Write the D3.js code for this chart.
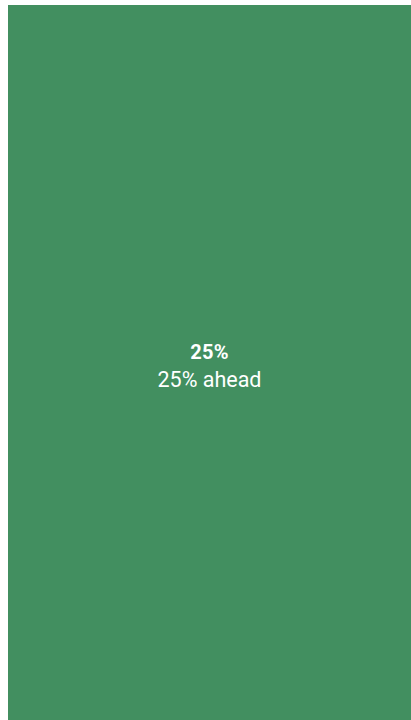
<!DOCTYPE html>
<html><head><meta charset="utf-8">
<script src="https://cdn.jsdelivr.net/npm/d3@7"></script>
<style>
html,body{margin:0;padding:0;background:#fff;overflow:hidden}
svg{display:block}
</style></head><body>
<div id="chart"></div>
<script>
const categories = ["25% ahead"];
const values = [25];
const valueLabels = ["25%"];

const W = 411, H = 720;
const svg = d3.select("#chart").append("svg").attr("width", W).attr("height", H);

const root = d3.hierarchy({children: categories.map((c, i) => ({name: c, value: values[i], label: valueLabels[i]}))})
  .sum(d => d.value || 0);
d3.treemap().size([W - 8, H - 5]).padding(0)(root);

const g = svg.append("g").attr("transform", "translate(8,5)");
const leaf = g.selectAll("g").data(root.leaves()).join("g")
  .attr("transform", d => `translate(${d.x0},${d.y0})`);
leaf.append("rect")
  .attr("width", d => d.x1 - d.x0)
  .attr("height", d => d.y1 - d.y0)
  .attr("fill", "#428f60");
const t = leaf.append("text")
  .attr("text-anchor", "middle")
  .attr("fill", "#fff")
  .style("font-family", "Roboto, sans-serif");
t.append("tspan")
  .attr("x", d => (d.x1 - d.x0) / 2)
  .attr("y", d => (d.y1 - d.y0) / 2 - 3.5)
  .attr("font-weight", "bold")
  .style("font-size", "20px")
  .style("letter-spacing", "0.3px")
  .text(d => d.data.label);
t.append("tspan")
  .attr("x", d => (d.x1 - d.x0) / 2)
  .attr("y", d => (d.y1 - d.y0) / 2 + 24.5)
  .style("font-size", "21.5px")
  .text(d => d.data.name);
</script>
</body></html>
